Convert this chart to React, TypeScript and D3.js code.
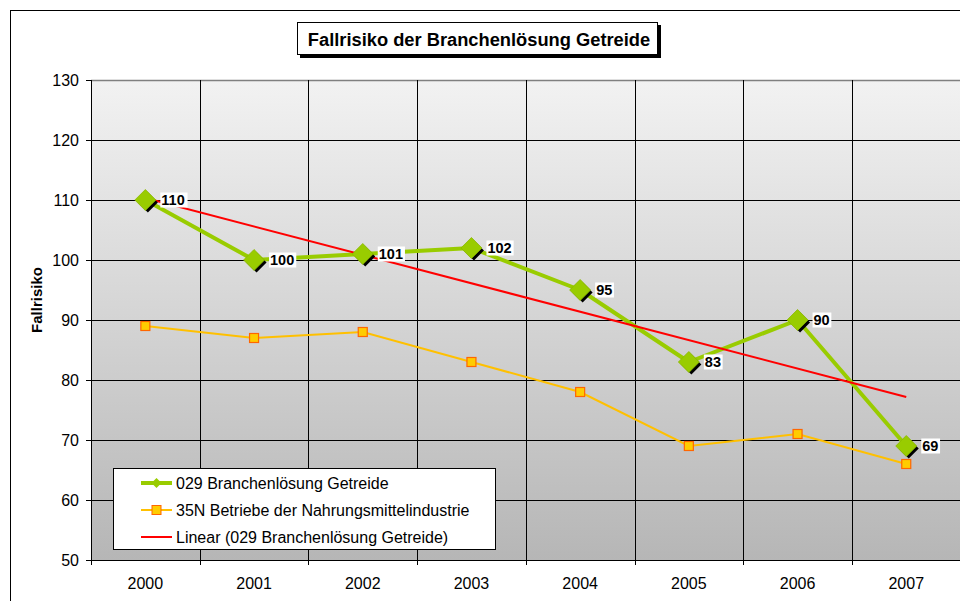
import React, { useEffect, useRef } from 'react';
import * as d3 from 'd3';

const years = ['2000', '2001', '2002', '2003', '2004', '2005', '2006', '2007'];
const getreide = [110, 100, 101, 102, 95, 83, 90, 69];
const nahrung = [89, 87, 88, 83, 78, 69, 71, 66];
const yTicks = [50, 60, 70, 80, 90, 100, 110, 120, 130];

const seriesNames = [
    '029 Branchenlösung Getreide',
    '35N Betriebe der Nahrungsmittelindustrie',
    'Linear (029 Branchenlösung Getreide)',
];

const W = 960;
const H = 601;
const FONT = '"Liberation Sans", Arial, sans-serif';

const App = () => {
    const svgRef = useRef<SVGSVGElement | null>(null);

    useEffect(() => {
        const svg = d3.select(svgRef.current);
        svg.selectAll('*').remove();

        const left = 91;
        const top = 80;
        const bottom = 560;
        const step = 108.7;
        const right = left + step * years.length;

        const x = d3.scaleBand().domain(years).range([left, right]);
        const y = d3.scaleLinear().domain([50, 130]).range([bottom, top]);
        const cx = (yr: string) => (x(yr) as number) + x.bandwidth() / 2;

        const defs = svg.append('defs');
        const grad = defs
            .append('linearGradient')
            .attr('id', 'plotBg')
            .attr('x1', 0)
            .attr('y1', 0)
            .attr('x2', 0)
            .attr('y2', 1);
        grad.append('stop').attr('offset', '0%').attr('stop-color', '#f2f2f2');
        grad.append('stop').attr('offset', '100%').attr('stop-color', '#b6b6b6');

        // chart area frame
        svg.append('rect').attr('x', 10.5).attr('y', 10.5).attr('width', W).attr('height', H)
            .attr('fill', '#fff').attr('stroke', '#000');

        // plot background
        svg.append('rect').attr('x', left).attr('y', top).attr('width', right - left).attr('height', bottom - top)
            .attr('fill', 'url(#plotBg)');
        svg.append('line').attr('x1', left).attr('x2', right).attr('y1', top + 0.5).attr('y2', top + 0.5)
            .attr('stroke', '#808080').attr('stroke-width', 1.5);

        // horizontal gridlines
        svg.append('g').selectAll('line').data(yTicks.slice(1, -1)).enter().append('line')
            .attr('x1', left).attr('x2', right)
            .attr('y1', (d) => Math.round(y(d)) + 0.5).attr('y2', (d) => Math.round(y(d)) + 0.5)
            .attr('stroke', '#000').attr('stroke-width', 1);

        // vertical gridlines at category boundaries
        svg.append('g').selectAll('line').data(years.slice(1)).enter().append('line')
            .attr('x1', (d) => Math.round(x(d) as number) + 0.5).attr('x2', (d) => Math.round(x(d) as number) + 0.5)
            .attr('y1', top).attr('y2', bottom + 5)
            .attr('stroke', '#000').attr('stroke-width', 1);

        // axes
        svg.append('line').attr('x1', left + 0.5).attr('x2', left + 0.5).attr('y1', top).attr('y2', bottom + 5)
            .attr('stroke', '#000');
        svg.append('line').attr('x1', left - 5).attr('x2', right).attr('y1', bottom + 0.5).attr('y2', bottom + 0.5)
            .attr('stroke', '#000');

        const yAxis = svg.append('g');
        yTicks.forEach((t) => {
            const yy = Math.round(y(t)) + 0.5;
            yAxis.append('line').attr('x1', left - 5).attr('x2', left).attr('y1', yy).attr('y2', yy).attr('stroke', '#000');
            yAxis.append('text').attr('x', 79).attr('y', yy).attr('dy', '0.36em').attr('text-anchor', 'end')
                .style('font-family', FONT).style('font-size', '16px').text(t);
        });

        svg.append('g').selectAll('text').data(years).enter().append('text')
            .attr('x', (d) => cx(d)).attr('y', 589).attr('text-anchor', 'middle')
            .style('font-family', FONT).style('font-size', '16px').text((d) => d);

        svg.append('text')
            .attr('transform', `translate(42, ${(top + bottom) / 2 - 20}) rotate(-90)`)
            .attr('text-anchor', 'middle')
            .style('font-family', FONT).style('font-size', '15px').style('font-weight', 'bold')
            .text('Fallrisiko');

        // trend line from linear regression of the green series
        const xs = years.map((_, i) => i + 1);
        const mx = d3.mean(xs) as number;
        const my = d3.mean(getreide) as number;
        const slope =
            d3.sum(xs.map((v, i) => (v - mx) * (getreide[i] - my))) / d3.sum(xs.map((v) => (v - mx) ** 2));
        const icpt = my - slope * mx;
        const first = years[0];
        const last = years[years.length - 1];

        const lineGen = d3.line<[number, number]>().x((d) => d[0]).y((d) => d[1]);

        // orange series
        const orangePts = years.map((yr, i) => [cx(yr), y(nahrung[i])] as [number, number]);
        svg.append('path').attr('d', lineGen(orangePts)).attr('fill', 'none')
            .attr('stroke', '#ffc000').attr('stroke-width', 2);
        svg.append('g').selectAll('rect').data(orangePts).enter().append('rect')
            .attr('x', (d) => d[0] - 4.5).attr('y', (d) => d[1] - 4.5).attr('width', 9).attr('height', 9)
            .attr('fill', '#ffcc00').attr('stroke', '#ff6600').attr('stroke-width', 1.2);

        // green series
        const greenPts = years.map((yr, i) => [cx(yr), y(getreide[i])] as [number, number]);
        svg.append('path').attr('d', lineGen(greenPts)).attr('fill', 'none')
            .attr('stroke', '#99cc00').attr('stroke-width', 4).attr('stroke-linejoin', 'round');

        // trend line drawn over green line
        svg.append('line')
            .attr('x1', cx(first)).attr('y1', y(icpt + slope * 1))
            .attr('x2', cx(last)).attr('y2', y(icpt + slope * years.length))
            .attr('stroke', '#ff0000').attr('stroke-width', 2);

        const diamond = (px: number, py: number, r: number) =>
            `M${px},${py - r}L${px + r},${py}L${px},${py + r}L${px - r},${py}Z`;
        const gMarks = svg.append('g');
        greenPts.forEach(([px, py]) => {
            gMarks.append('path').attr('d', diamond(px + 2.5, py + 2.5, 10)).attr('fill', '#000');
            gMarks.append('path').attr('d', diamond(px, py, 10.5)).attr('fill', '#99cc00')
                .attr('stroke', '#8ab800').attr('stroke-width', 0.8);
        });

        // data labels
        const labels = svg.append('g');
        greenPts.forEach(([px, py], i) => {
            const txt = String(getreide[i]);
            const w = txt.length * 8.4 + 2;
            labels.append('rect').attr('x', px + 15).attr('y', py - 7.5).attr('width', w).attr('height', 15)
                .attr('fill', '#fff');
            labels.append('text').attr('x', px + 16).attr('y', py).attr('dy', '0.36em')
                .style('font-family', FONT).style('font-size', '14.5px').style('font-weight', 'bold')
                .text(txt);
        });

        // legend
        const lg = svg.append('g');
        lg.append('rect').attr('x', 113.5).attr('y', 468.5).attr('width', 382).attr('height', 81)
            .attr('fill', '#fff').attr('stroke', '#000');
        const rowY = [483, 510, 537];
        seriesNames.forEach((name, i) => {
            const yy = rowY[i];
            const color = i === 0 ? '#99cc00' : i === 1 ? '#ffc000' : '#ff0000';
            lg.append('line').attr('x1', 141).attr('x2', 172).attr('y1', yy).attr('y2', yy)
                .attr('stroke', color).attr('stroke-width', i === 0 ? 4 : 2);
            if (i === 0) {
                lg.append('path').attr('d', diamond(156.5, yy, 5)).attr('fill', '#99cc00');
            } else if (i === 1) {
                lg.append('rect').attr('x', 152).attr('y', yy - 4.5).attr('width', 9).attr('height', 9)
                    .attr('fill', '#ffcc00').attr('stroke', '#ff6600');
            }
            lg.append('text').attr('x', 176).attr('y', yy).attr('dy', '0.36em')
                .style('font-family', FONT).style('font-size', '16px').text(name);
        });

        // title box
        const tg = svg.append('g');
        tg.append('rect').attr('x', 300).attr('y', 25).attr('width', 361).attr('height', 33).attr('fill', '#000');
        tg.append('rect').attr('x', 297.5).attr('y', 22.5).attr('width', 360).attr('height', 32)
            .attr('fill', '#fff').attr('stroke', '#000');
        tg.append('text').attr('x', 479).attr('y', 39).attr('dy', '0.36em').attr('text-anchor', 'middle')
            .style('font-family', FONT).style('font-size', '18.3px').style('font-weight', 'bold')
            .text('Fallrisiko der Branchenlösung Getreide');
    }, []);

    return (
        <svg
            ref={svgRef}
            width={W}
            height={H}
            style={{ position: 'absolute', left: 0, top: 0, display: 'block' }}
        />
    );
};

export default App;
